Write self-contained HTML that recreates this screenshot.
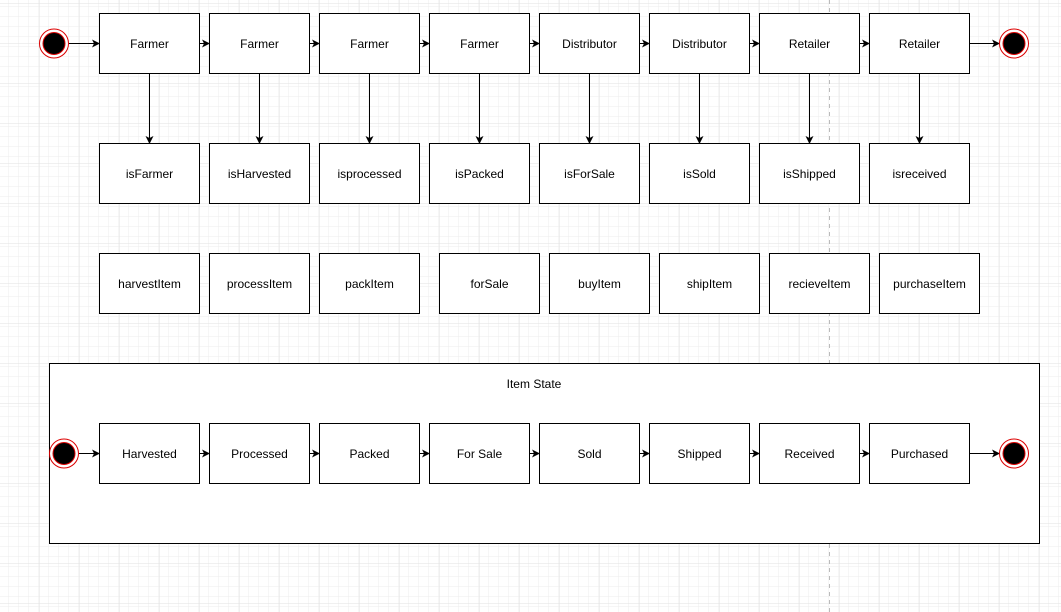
<!DOCTYPE html>
<html><head><style>
html,body{margin:0;padding:0;background:#fff;}
svg{display:block;}
text{font-family:"Liberation Sans",Arial,sans-serif;font-size:12px;fill:#000;}
</style></head><body>
<svg width="1061" height="612" viewBox="0 0 1061 612" xmlns="http://www.w3.org/2000/svg">
<defs>
<pattern id="g" width="10" height="10" patternUnits="userSpaceOnUse" x="-1" y="3">
<path d="M10 0H0V10" fill="none" stroke="#eeeeee" stroke-width="1"/>
</pattern>
<pattern id="G" width="40" height="40" patternUnits="userSpaceOnUse" x="-1" y="3">
<rect width="40" height="40" fill="url(#g)"/>
<path d="M40 0H0V40" fill="none" stroke="#e2e2e2" stroke-width="1"/>
</pattern>
<marker id="a" markerWidth="8" markerHeight="8" refX="7" refY="4" orient="auto" markerUnits="userSpaceOnUse">
<path d="M0,0 L8,4 L0,8 L2,4 Z" fill="#000"/>
</marker>
</defs>
<rect width="1061" height="612" fill="url(#G)"/>
<line x1="829.5" y1="0" x2="829.5" y2="612" stroke="#bbb" stroke-dasharray="4 4"/>
<g stroke="#000" fill="#fff" stroke-width="1">
<!-- container -->
<rect x="49.5" y="363.5" width="990" height="180"/>
</g>
<text x="534" y="388" text-anchor="middle">Item State</text>
<g fill="#fff" stroke="#000">
<rect x="99.5" y="13.5" width="100" height="60"/><rect x="209.5" y="13.5" width="100" height="60"/><rect x="319.5" y="13.5" width="100" height="60"/><rect x="429.5" y="13.5" width="100" height="60"/><rect x="539.5" y="13.5" width="100" height="60"/><rect x="649.5" y="13.5" width="100" height="60"/><rect x="759.5" y="13.5" width="100" height="60"/><rect x="869.5" y="13.5" width="100" height="60"/>
<rect x="99.5" y="143.5" width="100" height="60"/><rect x="209.5" y="143.5" width="100" height="60"/><rect x="319.5" y="143.5" width="100" height="60"/><rect x="429.5" y="143.5" width="100" height="60"/><rect x="539.5" y="143.5" width="100" height="60"/><rect x="649.5" y="143.5" width="100" height="60"/><rect x="759.5" y="143.5" width="100" height="60"/><rect x="869.5" y="143.5" width="100" height="60"/>
<rect x="99.5" y="253.5" width="100" height="60"/><rect x="209.5" y="253.5" width="100" height="60"/><rect x="319.5" y="253.5" width="100" height="60"/><rect x="439.5" y="253.5" width="100" height="60"/><rect x="549.5" y="253.5" width="100" height="60"/><rect x="659.5" y="253.5" width="100" height="60"/><rect x="769.5" y="253.5" width="100" height="60"/><rect x="879.5" y="253.5" width="100" height="60"/>
<rect x="99.5" y="423.5" width="100" height="60"/><rect x="209.5" y="423.5" width="100" height="60"/><rect x="319.5" y="423.5" width="100" height="60"/><rect x="429.5" y="423.5" width="100" height="60"/><rect x="539.5" y="423.5" width="100" height="60"/><rect x="649.5" y="423.5" width="100" height="60"/><rect x="759.5" y="423.5" width="100" height="60"/><rect x="869.5" y="423.5" width="100" height="60"/>
</g>
<g stroke="#000" fill="none" marker-end="url(#a)">
<line x1="69" y1="43.5" x2="99" y2="43.5"/><line x1="199" y1="43.5" x2="209" y2="43.5"/><line x1="309" y1="43.5" x2="319" y2="43.5"/><line x1="419" y1="43.5" x2="429" y2="43.5"/><line x1="529" y1="43.5" x2="539" y2="43.5"/><line x1="639" y1="43.5" x2="649" y2="43.5"/><line x1="749" y1="43.5" x2="759" y2="43.5"/><line x1="859" y1="43.5" x2="869" y2="43.5"/><line x1="969" y1="43.5" x2="999" y2="43.5"/>
<line x1="149.5" y1="73" x2="149.5" y2="143"/><line x1="259.5" y1="73" x2="259.5" y2="143"/><line x1="369.5" y1="73" x2="369.5" y2="143"/><line x1="479.5" y1="73" x2="479.5" y2="143"/><line x1="589.5" y1="73" x2="589.5" y2="143"/><line x1="699.5" y1="73" x2="699.5" y2="143"/><line x1="809.5" y1="73" x2="809.5" y2="143"/><line x1="919.5" y1="73" x2="919.5" y2="143"/>
<line x1="79" y1="453.5" x2="99" y2="453.5"/><line x1="199" y1="453.5" x2="209" y2="453.5"/><line x1="309" y1="453.5" x2="319" y2="453.5"/><line x1="419" y1="453.5" x2="429" y2="453.5"/><line x1="529" y1="453.5" x2="539" y2="453.5"/><line x1="639" y1="453.5" x2="649" y2="453.5"/><line x1="749" y1="453.5" x2="759" y2="453.5"/><line x1="859" y1="453.5" x2="869" y2="453.5"/><line x1="969" y1="453.5" x2="999" y2="453.5"/>
</g>
<g>
<circle cx="54" cy="43.5" r="14.5" fill="#fff" stroke="#d00" stroke-width="1"/><circle cx="54" cy="43.5" r="11" fill="#000" stroke="#d00"/>
<circle cx="1014" cy="43.5" r="14.5" fill="#fff" stroke="#d00" stroke-width="1"/><circle cx="1014" cy="43.5" r="11" fill="#000" stroke="#d00"/>
<circle cx="64" cy="453.5" r="14.5" fill="#fff" stroke="#d00" stroke-width="1"/><circle cx="64" cy="453.5" r="11" fill="#000" stroke="#d00"/>
<circle cx="1014" cy="453.5" r="14.5" fill="#fff" stroke="#d00" stroke-width="1"/><circle cx="1014" cy="453.5" r="11" fill="#000" stroke="#d00"/>
</g>
<g text-anchor="middle">
<text x="149.5" y="48">Farmer</text><text x="259.5" y="48">Farmer</text><text x="369.5" y="48">Farmer</text><text x="479.5" y="48">Farmer</text><text x="589.5" y="48">Distributor</text><text x="699.5" y="48">Distributor</text><text x="809.5" y="48">Retailer</text><text x="919.5" y="48">Retailer</text>
<text x="149.5" y="178">isFarmer</text><text x="259.5" y="178">isHarvested</text><text x="369.5" y="178">isprocessed</text><text x="479.5" y="178">isPacked</text><text x="589.5" y="178">isForSale</text><text x="699.5" y="178">isSold</text><text x="809.5" y="178">isShipped</text><text x="919.5" y="178">isreceived</text>
<text x="149.5" y="288">harvestItem</text><text x="259.5" y="288">processItem</text><text x="369.5" y="288">packItem</text><text x="489.5" y="288">forSale</text><text x="599.5" y="288">buyItem</text><text x="709.5" y="288">shipItem</text><text x="819.5" y="288">recieveItem</text><text x="929.5" y="288">purchaseItem</text>
<text x="149.5" y="458">Harvested</text><text x="259.5" y="458">Processed</text><text x="369.5" y="458">Packed</text><text x="479.5" y="458">For Sale</text><text x="589.5" y="458">Sold</text><text x="699.5" y="458">Shipped</text><text x="809.5" y="458">Received</text><text x="919.5" y="458">Purchased</text>
</g>
</svg>
</body></html>
